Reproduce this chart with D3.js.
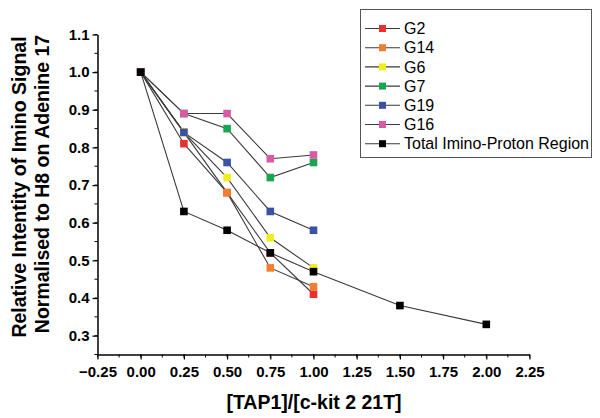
<!DOCTYPE html>
<html><head><meta charset="utf-8">
<script src="https://cdn.jsdelivr.net/npm/d3@7"></script>
<style>
html,body{margin:0;padding:0;background:#fff;}
svg{display:block;font-family:"Liberation Sans",Arial,sans-serif;}
</style></head><body>
<svg id="chart" width="600" height="418"></svg>
<script>
const xValues = [0, 0.25, 0.5, 0.75, 1.0];
const totalX = [0, 0.25, 0.5, 0.75, 1.0, 1.5, 2.0];
const seriesNames = ["G2", "G14", "G6", "G7", "G19", "G16", "Total Imino-Proton Region"];
const seriesColors = ["#e8312f", "#f07f30", "#f2ec1c", "#19a550", "#3a52a3", "#d95aa5", "#000000"];
const G2 = [1.0, 0.81, 0.68, 0.52, 0.41];
const G14 = [1.0, 0.84, 0.68, 0.48, 0.43];
const G6 = [1.0, 0.84, 0.72, 0.56, 0.48];
const G7 = [1.0, 0.89, 0.85, 0.72, 0.76];
const G19 = [1.0, 0.84, 0.76, 0.63, 0.58];
const G16 = [1.0, 0.89, 0.89, 0.77, 0.78];
const Total = [1.0, 0.63, 0.58, 0.52, 0.47, 0.38, 0.33];
const xTicks = [-0.25, 0, 0.25, 0.5, 0.75, 1.0, 1.25, 1.5, 1.75, 2.0, 2.25];
const yTicks = [0.3, 0.4, 0.5, 0.6, 0.7, 0.8, 0.9, 1.0, 1.1];

const series = [
  {name: seriesNames[0], color: seriesColors[0], xs: xValues, ys: G2},
  {name: seriesNames[1], color: seriesColors[1], xs: xValues, ys: G14},
  {name: seriesNames[2], color: seriesColors[2], xs: xValues, ys: G6},
  {name: seriesNames[3], color: seriesColors[3], xs: xValues, ys: G7},
  {name: seriesNames[4], color: seriesColors[4], xs: xValues, ys: G19},
  {name: seriesNames[5], color: seriesColors[5], xs: xValues, ys: G16},
  {name: seriesNames[6], color: seriesColors[6], xs: totalX, ys: Total}
];

const svg = d3.select("#chart");
const x = d3.scaleLinear().domain([-0.25, 2.25]).range([97.5, 529.5]);
const y = d3.scaleLinear().domain([0.25, 1.1]).range([354.5, 34.5]);

// minor ticks
const xMinor = d3.range(-0.25, 2.2501, 0.125);
const yMinor = d3.range(0.25, 1.1001, 0.05);
const gx = svg.append("g").attr("transform", "translate(0,354.5)");
gx.selectAll("line.minor").data(xMinor).join("line")
  .attr("x1", d => x(d)).attr("x2", d => x(d)).attr("y1", 0).attr("y2", 3)
  .attr("stroke", "#000").attr("stroke-width", 1);
gx.call(d3.axisBottom(x).tickValues(xTicks).tickFormat(d3.format(".2f")).tickSize(5).tickSizeOuter(0))
  .call(g => g.select(".domain").attr("stroke-width", 1.5))
  .call(g => g.selectAll(".tick line").attr("stroke-width", 1.2))
  .call(g => g.selectAll(".tick text").attr("font-size", 15).attr("font-weight", "bold")
    .attr("font-family", "'Liberation Sans',Arial,sans-serif").attr("dy", "0.95em").attr("fill", "#000"));

const gy = svg.append("g").attr("transform", "translate(97.5,0)");
gy.selectAll("line.minor").data(yMinor).join("line")
  .attr("x1", -3).attr("x2", 0).attr("y1", d => y(d)).attr("y2", d => y(d))
  .attr("stroke", "#000").attr("stroke-width", 1);
gy.call(d3.axisLeft(y).tickValues(yTicks).tickFormat(d3.format(".1f")).tickSize(5).tickSizeOuter(0))
  .call(g => g.select(".domain").attr("stroke-width", 1.5))
  .call(g => g.selectAll(".tick line").attr("stroke-width", 1.2))
  .call(g => g.selectAll(".tick text").attr("font-size", 15).attr("font-weight", "bold")
    .attr("font-family", "'Liberation Sans',Arial,sans-serif").attr("x", -8).attr("fill", "#000"));

// axis titles
svg.append("text").attr("x", 314).attr("y", 409).attr("text-anchor", "middle")
  .attr("font-size", 19.5).attr("font-weight", "bold").text("[TAP1]/[c-kit 2 21T]");
svg.append("text").attr("transform", "translate(25.5,187) rotate(-90)").attr("text-anchor", "middle")
  .attr("font-size", 19.5).attr("font-weight", "bold").text("Relative Intentity of Imino Signal");
svg.append("text").attr("transform", "translate(48.5,184) rotate(-90)").attr("text-anchor", "middle")
  .attr("font-size", 19.5).attr("font-weight", "bold").text("Normalised to H8 on Adenine 17");

// lines
const line = d3.line().x(d => x(d[0])).y(d => y(d[1]));
const plot = svg.append("g");
series.forEach(s => {
  const pts = s.xs.map((v, i) => [v, s.ys[i]]);
  plot.append("path").datum(pts).attr("d", line).attr("fill", "none")
    .attr("stroke", "#3a3a3a").attr("stroke-width", 1.1);
});
series.forEach(s => {
  const pts = s.xs.map((v, i) => [v, s.ys[i]]);
  plot.selectAll(null).data(pts).join("rect")
    .attr("x", d => x(d[0]) - 3.8).attr("y", d => y(d[1]) - 3.8)
    .attr("width", 7.6).attr("height", 7.6).attr("fill", s.color);
});

// legend
const lg = svg.append("g");
lg.append("rect").attr("x", 360.5).attr("y", 9.5).attr("width", 231).attr("height", 148)
  .attr("fill", "#fff").attr("stroke", "#555").attr("stroke-width", 1);
series.forEach((s, i) => {
  const yy = 28.5 + i * 19.2;
  lg.append("line").attr("x1", 365).attr("x2", 400).attr("y1", yy).attr("y2", yy)
    .attr("stroke", "#3a3a3a").attr("stroke-width", 1.1);
  lg.append("rect").attr("x", 379).attr("y", yy - 3.5).attr("width", 7).attr("height", 7).attr("fill", s.color);
  lg.append("text").attr("x", 404).attr("y", yy).attr("dy", "0.35em")
    .attr("font-size", 16).attr("fill", "#000").text(s.name);
});
</script>
</body></html>
